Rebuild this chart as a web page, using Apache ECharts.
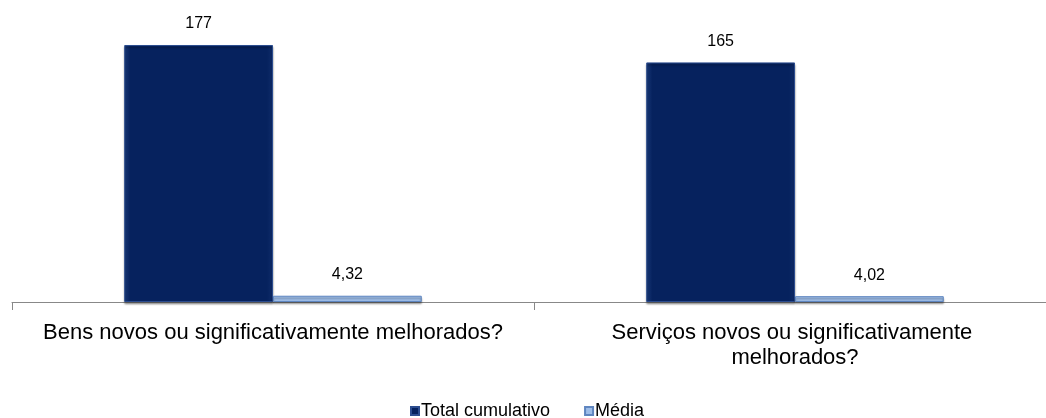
<!DOCTYPE html>
<html><head><meta charset="utf-8">
<script src="https://cdn.jsdelivr.net/npm/echarts@6/dist/echarts.min.js"></script>
<style>html,body{margin:0;padding:0;background:#fff;overflow:hidden;width:1046px;height:418px}#c{width:1060px;height:418px}</style>
</head><body><div id="c"></div>
<script>
const categories = ["Bens novos ou significativamente melhorados?", "Serviços novos ou significativamente melhorados?"];
const seriesNames = ["Total cumulativo", "Média"];
const totalValues = [177, 165];
const mediaValues = [4.32, 4.02];

const chart = echarts.init(document.getElementById('c'));
const fmt = v => String(v).replace('.', ',');
const FONT = 'Liberation Sans, Arial, sans-serif';
const labelStyle = {show: true, position: 'top', distance: 13, color: '#000', fontFamily: FONT, fontSize: 16,
  formatter: p => fmt(p.value)};
chart.setOption({
  animation: false,
  grid: {left: 12, right: 4, top: 11.6, bottom: 116, containLabel: false},
  legend: {top: 397, left: 405, itemWidth: 8, itemHeight: 8, itemGap: 34,
    textStyle: {fontFamily: FONT, fontSize: 18, color: '#000', padding: [0, 0, 0, -3]},
    data: seriesNames.map(n => ({name: n, icon: 'rect'}))},
  xAxis: {type: 'category', data: categories,
    axisLine: {lineStyle: {color: '#888', width: 1}},
    axisTick: {show: true, length: 8, lineStyle: {color: '#888'}},
    axisLabel: {color: '#000', fontFamily: FONT, fontSize: 22, lineHeight: 25, margin: 18,
      width: 475, overflow: 'break', interval: 0}},
  yAxis: {type: 'value', min: 0, max: 200, show: false, splitLine: {show: false}},
  series: [
    {name: seriesNames[0], type: 'bar', data: totalValues, barGap: '0%', barCategoryGap: '43%',
     itemStyle: {color: new echarts.graphic.LinearGradient(0,0,1,0,[{offset:0,color:'#1a3a7a'},{offset:0.04,color:'#06225e'},{offset:0.96,color:'#06225e'},{offset:1,color:'#0f2c6a'}]),
       borderColor: '#2c4d8f', borderWidth: 1, shadowColor: 'rgba(0,0,0,0.35)', shadowOffsetY: 2, shadowBlur: 2},
     label: labelStyle},
    {name: seriesNames[1], type: 'bar', data: mediaValues,
     itemStyle: {color: '#9dbde8', borderColor: '#5f86c0', borderWidth: 1, shadowColor: 'rgba(0,0,0,0.35)', shadowOffsetY: 2, shadowBlur: 2},
     label: labelStyle}
  ]
});
</script></body></html>
